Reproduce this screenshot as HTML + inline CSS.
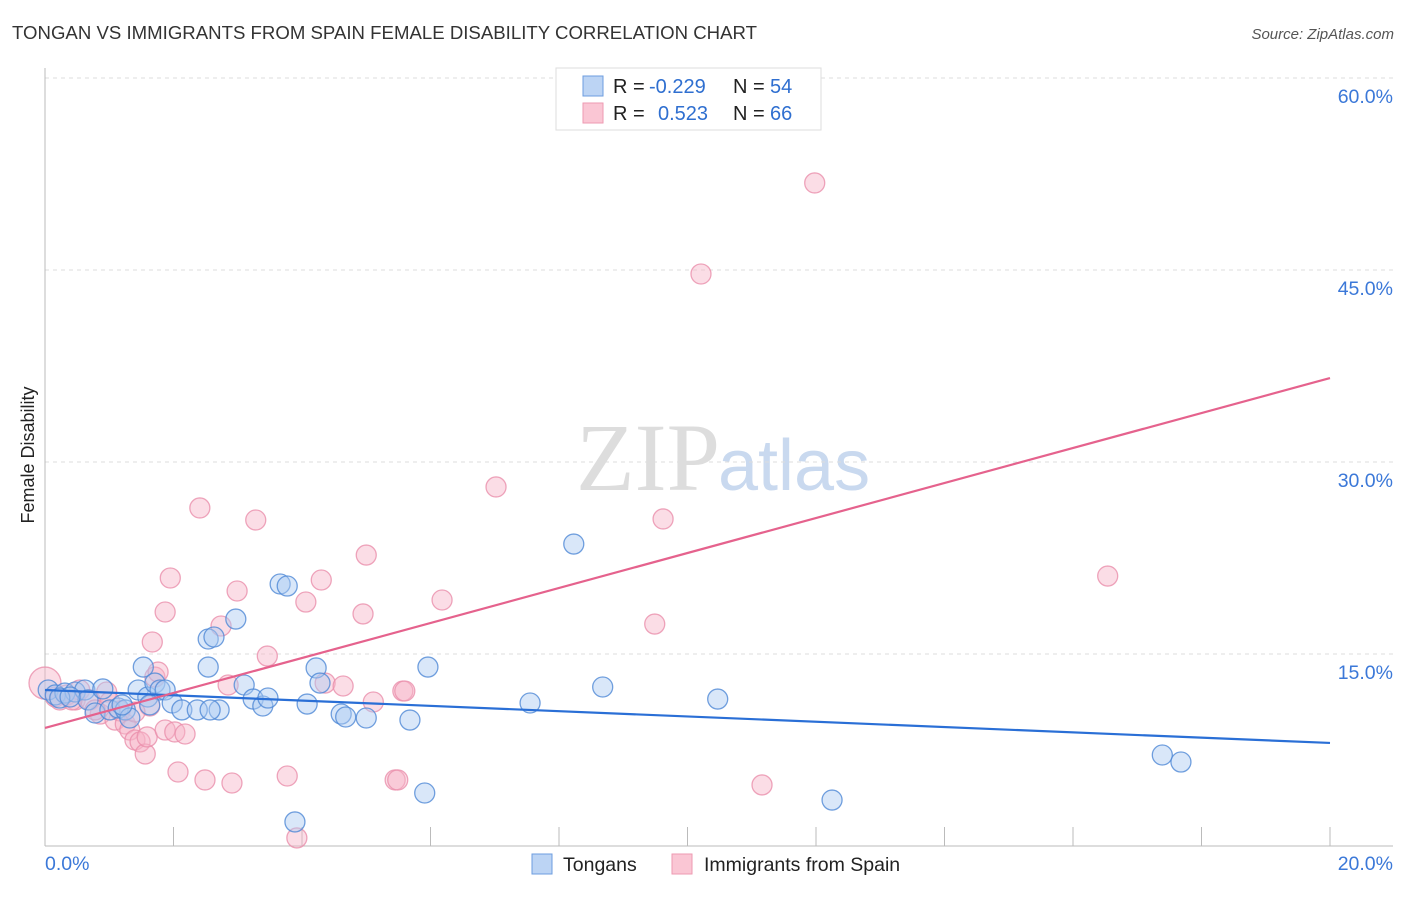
<!DOCTYPE html>
<html><head><meta charset="utf-8"><style>
body{margin:0;background:#fff;font-family:"Liberation Sans",sans-serif}
svg text{font-family:"Liberation Sans",sans-serif}
</style></head><body>
<svg id="chart" width="1406" height="892">
<text x="12" y="39" font-size="18.6" fill="#333" textLength="745">TONGAN VS IMMIGRANTS FROM SPAIN FEMALE DISABILITY CORRELATION CHART</text>
<text x="1394" y="39" font-size="15" fill="#555" font-style="italic" text-anchor="end">Source: ZipAtlas.com</text>
<text x="720" y="490" font-size="96" fill="#ddd" text-anchor="end" font-family="Liberation Serif" style="font-family:'Liberation Serif',serif">ZIP</text>
<text x="718" y="490" font-size="72" fill="#c9d9ef">atlas</text>
<g id="grid"></g>
<g id="axes"></g>
<g id="pts"></g>
<g id="lines"></g>
<text transform="translate(34,455) rotate(-90)" font-size="18" fill="#222" text-anchor="middle">Female Disability</text>
<g>
<rect x="556" y="68" width="265" height="62" fill="#fff" stroke="#ddd"/>
<rect x="583" y="76" width="20" height="20" fill="#bcd4f4" stroke="#6d9ddf"/>
<rect x="583" y="103" width="20" height="20" fill="#fac6d4" stroke="#ee9ab2"/>
<text y="93" font-size="20" fill="#222"><tspan x="613">R =</tspan><tspan x="649" fill="#2f6fd0">-0.229</tspan><tspan x="733">N =</tspan><tspan x="770" fill="#2f6fd0">54</tspan></text>
<text y="120" font-size="20" fill="#222"><tspan x="613">R =</tspan><tspan x="658" fill="#2f6fd0">0.523</tspan><tspan x="733">N =</tspan><tspan x="770" fill="#2f6fd0">66</tspan></text>
</g>
<g>
<rect x="532" y="854" width="20" height="20" fill="#bcd4f4" stroke="#6d9ddf"/>
<text x="563" y="871" font-size="19.5" fill="#222">Tongans</text>
<rect x="672" y="854" width="20" height="20" fill="#fac6d4" stroke="#ee9ab2"/>
<text x="704" y="871" font-size="19.5" fill="#222">Immigrants from Spain</text>
</g>
</svg>
<script>
const xTicks=[0,20];
const yTicks=[15,30,45,60];
const blueX=[0.05,0.16,0.31,0.47,0.62,0.67,0.78,0.90,1.01,1.14,1.25,1.32,1.45,1.53,1.60,1.71,1.79,1.87,1.98,2.13,2.37,2.54,2.54,2.63,2.71,2.97,3.10,3.24,3.39,3.66,3.77,3.89,4.08,4.22,4.28,4.61,4.68,5.00,5.68,5.91,5.96,7.55,8.23,8.68,10.47,12.25,17.39,17.68,0.23,0.39,1.20,1.63,2.57,3.47];
const blueY=[12.19,11.80,11.95,12.03,12.19,11.41,10.39,12.27,10.63,10.78,10.63,10.00,12.19,13.98,11.64,12.73,12.19,12.19,11.17,10.63,10.63,16.17,13.98,16.33,10.63,17.73,12.58,11.48,10.94,20.47,20.31,1.88,11.09,13.91,12.73,10.31,10.08,10.00,9.84,4.14,13.98,11.17,23.59,12.42,11.48,3.59,7.11,6.56,11.56,11.64,11.02,11.02,10.63,11.56];
const pinkX=[0.00,0.16,0.23,0.34,0.47,0.54,0.70,0.86,0.96,1.01,1.09,1.17,1.25,1.32,1.40,1.48,1.56,1.59,1.67,1.71,1.76,1.87,1.95,1.87,2.07,2.02,2.18,2.41,2.49,2.74,2.85,2.91,2.99,3.28,3.46,3.77,3.92,4.06,4.30,4.36,4.64,4.95,5.00,5.11,5.45,5.49,5.57,5.60,6.18,7.02,9.49,9.62,10.21,11.16,11.98,16.54,1.63,0.78,0.42,1.40];
const pinkY=[12.73,11.64,11.41,11.80,11.41,12.19,11.41,10.31,12.03,11.25,9.84,10.55,9.53,9.06,8.28,8.13,7.19,8.52,15.94,13.20,13.59,18.28,20.94,9.06,5.78,8.91,8.75,26.41,5.16,17.19,12.58,4.92,19.92,25.47,14.84,5.47,0.63,19.06,20.78,12.73,12.50,18.13,22.73,11.25,5.16,5.16,12.11,12.11,19.22,28.05,17.34,25.55,44.69,4.77,51.80,21.09,10.94,10.63,11.41,10.47];
const blueTrend=[12.19,8.05];
const pinkTrend=[9.22,36.56];
const NS='http://www.w3.org/2000/svg';
const X0=45,X1=1330,Y0=846,YTOP=78;
function sx(v){return X0+(v-xTicks[0])/(xTicks[1]-xTicks[0])*(X1-X0);}
function sy(v){return Y0-v/60*(Y0-YTOP);}
function mk(tag,attrs,parent){const e=document.createElementNS(NS,tag);for(const k in attrs)e.setAttribute(k,attrs[k]);parent.appendChild(e);return e;}
const grid=document.getElementById('grid'),axes=document.getElementById('axes'),pts=document.getElementById('pts'),lines=document.getElementById('lines');
yTicks.forEach(t=>{
 const l=mk('line',{x1:X0,x2:1393,y1:sy(t),y2:sy(t),stroke:'#ddd','stroke-dasharray':'4,4'},grid);
 
 
 const tx=mk('text',{x:1393,y:sy(t)+25,'font-size':19.5,fill:'#3b78d8','text-anchor':'end'},grid);
 tx.textContent=t.toFixed(1)+'%';
 
 
});
const ya=mk('line',{x1:X0,x2:X0,y1:68,y2:Y0,stroke:'#bbb'},axes);


const xa=mk('line',{x1:X0,x2:1393,y1:Y0,y2:Y0,stroke:'#bbb'},axes);


for(let i=1;i<=10;i++){
 const v=xTicks[0]+i*(xTicks[1]-xTicks[0])/10;
 const tk=mk('line',{x1:sx(v),x2:sx(v),y1:827,y2:Y0,stroke:'#bbb'},axes);
 
 
}
xTicks.forEach((t,i)=>{
 const tx=mk('text',{x:i==0?45:1393,y:870,'font-size':19.5,fill:'#3b78d8','text-anchor':i==0?'start':'end'},axes);
 tx.textContent=t.toFixed(1)+'%';
 
 
});
function series(xs,ys,fill,stroke,name){
 xs.forEach((x,i)=>{
  const c=mk('circle',{cx:sx(x),cy:sy(ys[i]),r:(i==0&&name=='spain-point')?16:10,fill:fill,'fill-opacity':0.45,stroke:stroke,'stroke-opacity':0.8,'stroke-width':1.3},pts);
  
  
 });
}
series(pinkX,pinkY,'#f7b3c7','#ea8fab','spain-point');
series(blueX,blueY,'#aac9f1','#4f88d6','tongan-point');
const bl=mk('line',{x1:sx(0),y1:sy(blueTrend[0]),x2:sx(20),y2:sy(blueTrend[1]),stroke:'#2a6fd6','stroke-width':2.2},lines);


const pl=mk('line',{x1:sx(0),y1:sy(pinkTrend[0]),x2:sx(20),y2:sy(pinkTrend[1]),stroke:'#e5628d','stroke-width':2.2},lines);


</script>
</body></html>
